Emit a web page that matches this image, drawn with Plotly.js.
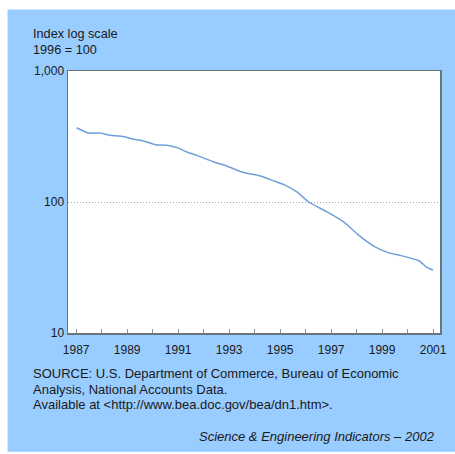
<!DOCTYPE html>
<html>
<head>
<meta charset="utf-8">
<script src="https://cdn.plot.ly/plotly-3.0.1.min.js"></script>
<style>html,body{margin:0;padding:0;background:#fff;}#chart{width:455px;height:454px;}</style>
</head>
<body>
<div id="chart"></div>
<script>
// Price index (log scale, 1996 = 100)
const years = [1987.02, 1987.48, 1987.94, 1988.33, 1988.79, 1989.25, 1989.64, 1990.10, 1990.55, 1990.95,
  1991.34, 1991.73, 1992.40, 1992.85, 1993.57, 1994.23, 1994.75, 1995.21, 1995.67, 1996.12,
  1996.84, 1997.49, 1998.08, 1998.67, 1999.26, 1999.72, 2000.44, 2000.76, 2001.0];
const indexValues = [369, 336, 336, 323, 317, 301, 292, 274, 271, 260,
  241, 227, 202, 190, 168, 158, 145, 134, 119, 100,
  84, 70.5, 55.8, 46, 40.9, 39.1, 35.6, 31.7, 30.2];
const xTickVals = [1987,1988,1989,1990,1991,1992,1993,1994,1995,1996,1997,1998,1999,2000,2001];
const xTickText = ["1987","","1989","","1991","","1993","","1995","","1997","","1999","","2001"];
const yTickVals = [10, 100, 1000];
const yTickText = ["10", "100", "1,000"];

const L = 67.5, T = 70.5, W = 455, H = 454, R = 15, B = 121;
const pw = W - L - R, ph = H - T - B;
const px = x => (x - L) / pw;
const py = y => (H - B - y) / ph;

const font = {family: "Liberation Sans, Arial, sans-serif", size: 12, color: "#1a1a1a"};
const textFont = {family: "Liberation Sans, Arial, sans-serif", size: 13, color: "#1a1a1a"};
const titleFont = {family: "Liberation Sans, Arial, sans-serif", size: 12.7, color: "#1a1a1a"};

const trace = {
  x: years, y: indexValues, type: "scatter", mode: "lines",
  line: {color: "#6f9fd8", width: 1.5, shape: "spline", smoothing: 0.6},
  hoverinfo: "skip"
};

const layout = {
  width: W, height: H,
  margin: {l: L, r: R, t: T, b: B, pad: 0},
  paper_bgcolor: "#ffffff",
  plot_bgcolor: "#ffffff",
  showlegend: false,
  font: font,
  xaxis: {
    range: [1986.68, 2001.27],
    tickvals: xTickVals, ticktext: xTickText,
    ticks: "inside", ticklen: 4, tickcolor: "#8a9299", tickwidth: 1,
    showgrid: false, zeroline: false,
    showline: true, linecolor: "#6a757c", linewidth: 1.5, mirror: true,
    tickfont: font, ticklabelstandoff: 5
  },
  yaxis: {
    type: "log", range: [1, 3],
    tickvals: yTickVals, ticktext: yTickText,
    ticks: "", showgrid: true, gridcolor: "#a8a8a8", griddash: "1px,2px", gridwidth: 1,
    zeroline: false,
    showline: true, linecolor: "#6a757c", linewidth: 1.5, mirror: true,
    tickfont: font
  },
  shapes: [
    {type: "rect", xref: "paper", yref: "paper", layer: "below",
     x0: px(7), x1: px(456), y0: py(452), y1: py(9),
     fillcolor: "#99ccff", line: {width: 0}},
    {type: "rect", xref: "paper", yref: "paper", layer: "below",
     x0: 0, x1: 1, y0: 0, y1: 1,
     fillcolor: "#ffffff", line: {width: 0}}
  ],
  annotations: [
    {text: "Index log scale", x: px(30), y: py(33.3), xref: "paper", yref: "paper", xanchor: "left", yanchor: "middle", showarrow: false, font: titleFont},
    {text: "1996 = 100", x: px(30), y: py(49), xref: "paper", yref: "paper", xanchor: "left", yanchor: "middle", showarrow: false, font: titleFont},
    {text: "SOURCE: U.S. Department of Commerce, Bureau of Economic", x: px(30), y: py(373.3), xref: "paper", yref: "paper", xanchor: "left", yanchor: "middle", showarrow: false, font: textFont},
    {text: "Analysis, National Accounts Data.", x: px(30), y: py(389.3), xref: "paper", yref: "paper", xanchor: "left", yanchor: "middle", showarrow: false, font: textFont},
    {text: "Available at &lt;http://www.bea.doc.gov/bea/dn1.htm&gt;.", x: px(30), y: py(405), xref: "paper", yref: "paper", xanchor: "left", yanchor: "middle", showarrow: false, font: textFont},
    {text: "<i>Science &amp; Engineering Indicators – 2002</i>", x: px(437), y: py(436.7), xref: "paper", yref: "paper", xanchor: "right", yanchor: "middle", showarrow: false, font: textFont}
  ]
};

Plotly.newPlot("chart", [trace], layout, {staticPlot: true, displayModeBar: false});
</script>
</body>
</html>
